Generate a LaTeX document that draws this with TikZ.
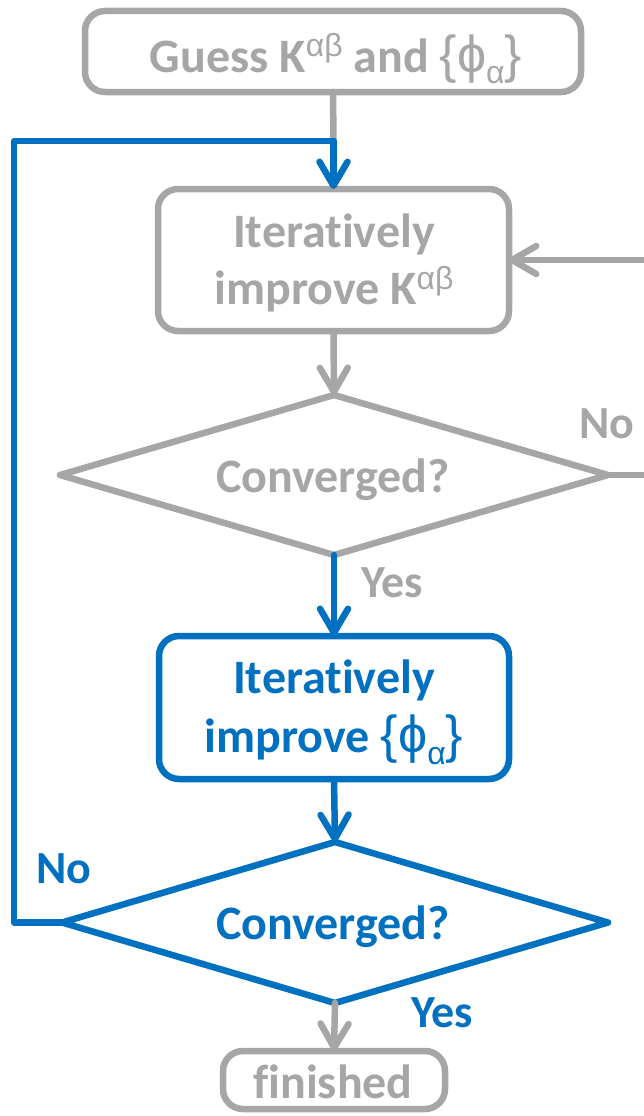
\documentclass[tikz,border=0pt]{standalone}
\usepackage{fontspec}
\setmainfont{Carlito}[Ligatures=NoCommon]
\newfontfamily\grk{Liberation Sans}
\usetikzlibrary{shapes.geometric,arrows.meta}

\definecolor{flowgray}{HTML}{A6A6A6}
\definecolor{flowblue}{HTML}{0070C0}

% Greek symbols and braces set in a lighter symbol face
\newcommand{\gsym}[1]{{\fontseries{m}\grk #1}}
\newcommand{\gbig}[1]{{\fontsize{52}{57}\selectfont\gsym{#1}}}
\newcommand{\gsup}[1]{\raisebox{15pt}{\fontsize{32}{32}\selectfont\gsym{#1}}}
\newcommand{\gsub}[1]{\raisebox{-12pt}{\fontsize{32}{32}\selectfont\gsym{#1}}}
\newcommand{\phiset}{\gbig{\{ϕ}\gsub{α}\gbig{\}}}

\tikzset{
  base/.style={line width=6.5pt, outer sep=0pt, inner sep=0pt},
  boxg/.style={base, draw=flowgray, rounded corners=20pt, fill=white},
  boxb/.style={base, draw=flowblue, rounded corners=20pt, fill=white},
  decg/.style={base, draw=flowgray, diamond, line join=round, fill=white},
  decb/.style={base, draw=flowblue, diamond, line join=round, fill=white},
  txt/.style={font=\fontsize{48}{57}\selectfont\bfseries, anchor=base, inner sep=0pt},
  lbl/.style={font=\fontsize{46}{46}\selectfont\bfseries, anchor=base west, inner sep=0pt},
  flow/.style={line width=6.5pt, line cap=round, line join=round,
    -{Straight Barb[length=24pt, width=28pt, line cap=round, line join=round]}},
  plain/.style={line width=6.5pt, line cap=round, line join=round},
}

\begin{document}
\begin{tikzpicture}[x=1pt, y=-1pt]
\useasboundingbox (0,0) rectangle (644,1116);

% boxes and decisions
\node[boxg, minimum width=496pt, minimum height=81pt] (guess) at (333,51.5) {};
\node[boxg, minimum width=351pt, minimum height=142pt] (impK) at (333.5,260) {};
\node[decg, minimum width=548pt, minimum height=160pt] (conv1) at (334,475) {};
\node[boxb, minimum width=350pt, minimum height=143pt] (impPhi) at (334,707.5) {};
\node[decb, minimum width=546pt, minimum height=161pt] (conv2) at (335,922.5) {};
\node[boxg, minimum width=222pt, minimum height=58pt] (fin) at (334,1080) {};

% texts
\node[txt, text=flowgray] (tGuess) at (336,72)
  {Guess K\gsup{αβ} and \phiset};
\node[txt, text=flowgray] (tImpK1) at (334,247) {Iteratively};
\node[txt, text=flowgray] (tImpK2) at (334,304) {improve K\gsup{αβ}};
\node[txt, text=flowgray] (tConv1) at (333,492) {Converged?};
\node[txt, text=flowblue] (tImpP1) at (334,693) {Iteratively};
\node[txt, text=flowblue] (tImpP2) at (334,752) {improve \phiset};
\node[txt, text=flowblue] (tConv2) at (333,939) {Converged?};
\node[txt, text=flowgray] (tFin) at (333,1098) {finished};

% branch labels
\node[lbl, text=flowgray] (noG) at (579,438) {No};
\node[lbl, text=flowgray] (yesG) at (361,597) {Yes};
\node[lbl, text=flowblue] (noB) at (36,883) {No};
\node[lbl, text=flowblue] (yesB) at (411,1027) {Yes};

% connectors
\coordinate (join) at (333.5,141);
\coordinate (leftrail) at (14,922.5);
\coordinate (rightrail) at (690,475);

\draw[plain, flowgray] (guess.south) -- (join);
\draw[plain, flowblue] (conv2.west) -- (leftrail) |- (join);
\draw[flow, flowblue] (join) -- (impK.north);
\draw[flow, flowgray] (conv1.east) -- (rightrail) |- (impK.east);
\draw[flow, flowgray] (impK.south) -- (conv1.north);
\draw[flow, flowblue] (conv1.south) -- (impPhi.north);
\draw[flow, flowblue] (impPhi.south) -- (conv2.north);
\draw[flow, flowgray] (conv2.south) -- (fin.north);
\end{tikzpicture}
\end{document}
